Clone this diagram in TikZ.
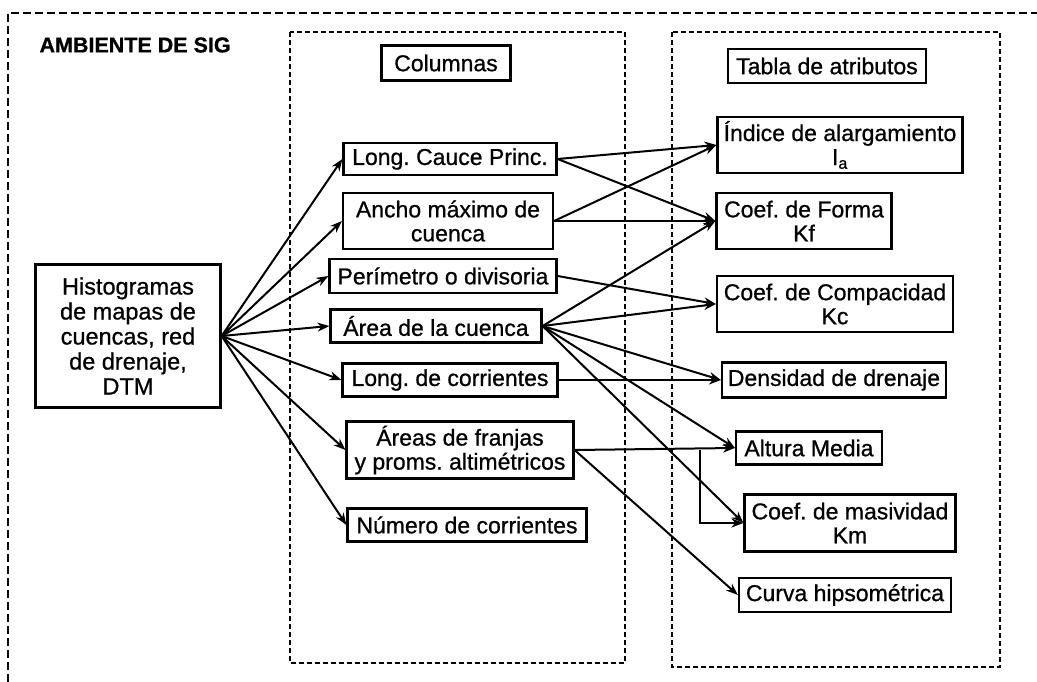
\documentclass[tikz,border=0pt]{standalone}
\usepackage{fontspec}
\setmainfont{Liberation Sans}[FakeBold=0.8]
\usetikzlibrary{arrows.meta}
\frenchspacing
\newcommand{\fsz}{\fontsize{23}{24}\selectfont}
\newcommand{\hsz}{\fontsize{23.5}{25}\selectfont}
\begin{document}
\begin{tikzpicture}[x=1pt,y=-1pt,
 box/.style={draw, line width=2.2pt, inner sep=0pt, align=center, font=\fsz},
 outerdash/.style={line width=2.4pt, dash pattern=on 8pt off 4pt},
 innerdash/.style={line width=2pt, dash pattern=on 5pt off 3pt},
 arr/.style={line width=2pt, -{Stealth[length=12pt,width=9pt]}},
 oarr/.style={line width=2pt, -{Stealth[open,length=12pt,width=9pt]}},
]
\useasboundingbox (0,0) rectangle (1037,682);
% frames
\draw[outerdash] (8,682) -- (8,13) -- (1037,13);
\draw[innerdash] (290,32) rectangle (625,663);
\draw[innerdash] (672,32) rectangle (1000,667);
\node[anchor=west, font=\fontsize{21.5}{24}\selectfont\bfseries] (title) at (36,45) {AMBIENTE DE SIG};
% headers
\node[box, minimum width=129pt, minimum height=35pt] (colh) at (446,63) {Columnas};
\node[box, minimum width=198pt, minimum height=34pt] (tabh) at (827,66) {Tabla de atributos};
% source
\node[box, minimum width=185pt, minimum height=143pt, font=\hsz] (hist) at (128,336) {Histogramas\\de mapas de\\cuencas, red\\de drenaje,\\DTM};
% columns
\node[box, minimum width=213pt, minimum height=32pt] (lcp) at (450,159) {Long. Cauce Princ.};
\node[box, minimum width=210pt, minimum height=56pt] (ancho) at (448,221) {Ancho máximo de\\cuenca};
\node[box, minimum width=227pt, minimum height=34pt] (perim) at (443,276) {Perímetro o divisoria};
\node[box, minimum width=211pt, minimum height=33pt] (area) at (436,326) {Área de la cuenca};
\node[box, minimum width=215pt, minimum height=33pt] (lcorr) at (450,380) {Long. de corrientes};
\node[box, minimum width=227pt, minimum height=57pt] (franjas) at (460,450) {Áreas de franjas\\y proms. altimétricos};
\node[box, minimum width=239pt, minimum height=33pt] (numero) at (467,525) {Número de corrientes};
% attributes
\node[box, minimum width=245pt, minimum height=56pt] (indice) at (840,145) {Índice de alargamiento\\I\textsubscript{a}};
\node[box, minimum width=175pt, minimum height=56pt] (forma) at (804,221) {Coef. de Forma\\Kf};
\node[box, minimum width=236pt, minimum height=56pt] (compac) at (835,304) {Coef. de Compacidad\\Kc};
\node[box, minimum width=224pt, minimum height=35pt] (dens) at (834,380) {Densidad de drenaje};
\node[box, minimum width=146pt, minimum height=33pt] (altura) at (809,448) {Altura Media};
\node[box, minimum width=211pt, minimum height=57pt] (masiv) at (850,523) {Coef. de masividad\\Km};
\node[box, minimum width=212pt, minimum height=34pt] (curva) at (845,595) {Curva hipsométrica};
% fan from source
\foreach \t in {lcp,ancho,perim,area,lcorr,franjas,numero}
  \draw[arr] (hist.east) -- (\t.west);
% columns to attributes
\draw[arr] (lcp.east) -- (indice.west);
\draw[oarr] (lcp.east) -- (forma.west);
\draw[arr] (ancho.east) -- (indice.west);
\draw[oarr] (ancho.east) -- (forma.west);
\draw[arr] (perim.east) -- (compac.west);
\draw[oarr] (area.east) -- (forma.west);
\draw[arr] (area.east) -- (compac.west);
\draw[arr] (area.east) -- (dens.west);
\draw[oarr] (area.east) -- (altura.west);
\draw[arr] (area.east) -- (masiv.west);
\draw[arr] (lcorr.east) -- (dens.west);
\draw[oarr] (franjas.east) -- (altura.west);
\coordinate (br) at (700,450);
\draw[arr, line width=2.6pt] (br) |- (masiv.west);
\draw[arr] (franjas.east) -- (curva.west);
\end{tikzpicture}
\end{document}
